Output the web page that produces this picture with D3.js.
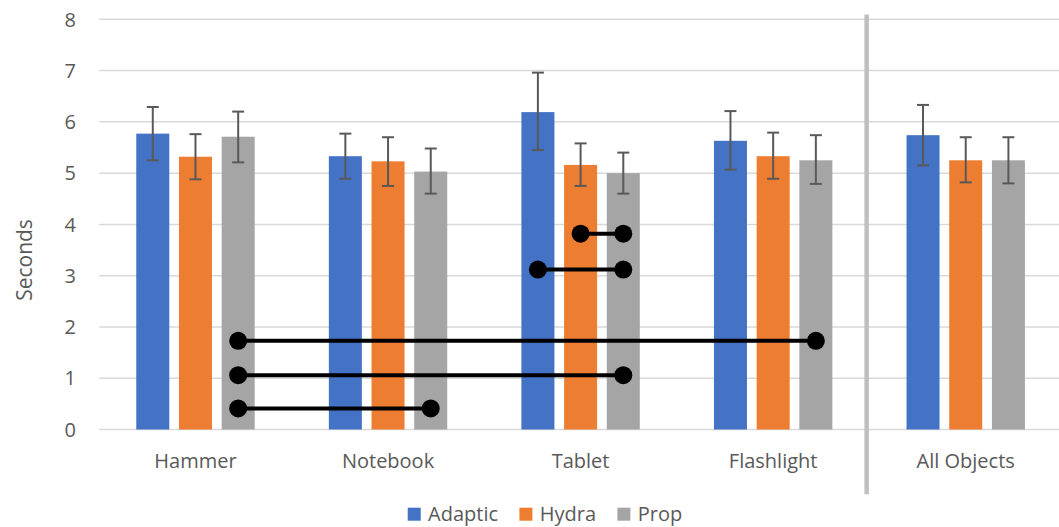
<!DOCTYPE html>
<html>
<head>
<meta charset="utf-8">
<script src="https://cdn.jsdelivr.net/npm/d3@7"></script>
<style>
  html, body { margin: 0; padding: 0; background: #fff; }
  svg { display: block; }
  text { font-family: "Open Sans", "Noto Sans", sans-serif; fill: #595959; }
</style>
</head>
<body>
<svg id="chart" width="1059" height="527"></svg>
<script>
// ---- data ----
const categories = ["Hammer", "Notebook", "Tablet", "Flashlight", "All Objects"];
const series = ["Adaptic", "Hydra", "Prop"];
const colors = ["#4472C4", "#ED7D31", "#A5A5A5"];
const adapticMean = [5.77, 5.33, 6.19, 5.63, 5.74];
const adapticLow  = [5.25, 4.89, 5.45, 5.07, 5.15];
const adapticHigh = [6.29, 5.77, 6.96, 6.21, 6.33];
const hydraMean   = [5.32, 5.23, 5.16, 5.33, 5.25];
const hydraLow    = [4.88, 4.75, 4.75, 4.89, 4.82];
const hydraHigh   = [5.76, 5.70, 5.58, 5.79, 5.70];
const propMean    = [5.71, 5.03, 5.00, 5.25, 5.25];
const propLow     = [5.21, 4.60, 4.60, 4.79, 4.80];
const propHigh    = [6.20, 5.48, 5.40, 5.74, 5.70];
const yTicks = [0, 1, 2, 3, 4, 5, 6, 7, 8];
const yTitle = "Seconds";
// significance connectors: [from category, from series, to category, to series, y value]
const linkFromCat = ["Hammer", "Hammer", "Hammer", "Tablet", "Tablet"];
const linkFromSer = ["Prop", "Prop", "Prop", "Adaptic", "Hydra"];
const linkToCat   = ["Flashlight", "Tablet", "Notebook", "Tablet", "Tablet"];
const linkToSer   = ["Prop", "Prop", "Prop", "Prop", "Prop"];
const linkValue   = [1.73, 1.06, 0.41, 3.12, 3.82];

const means = [adapticMean, hydraMean, propMean];
const lows = [adapticLow, hydraLow, propLow];
const highs = [adapticHigh, hydraHigh, propHigh];

// ---- layout ----
const W = 1059, H = 527;
const plotLeft = 99.2, plotRight = 1062, plotTop = 19.3, plotBottom = 429.5;
const svg = d3.select("#chart");

const x0 = d3.scaleBand().domain(categories).range([plotLeft, plotRight]).paddingInner(0).paddingOuter(0);
const x1 = d3.scaleBand().domain(series).range([-59.2, 59.2]).paddingInner(0.227).paddingOuter(0);
const y = d3.scaleLinear().domain([0, 8]).range([plotBottom, plotTop]);

// gridlines
svg.append("g").selectAll("line").data(yTicks).join("line")
  .attr("x1", plotLeft).attr("x2", W)
  .attr("y1", d => y(d)).attr("y2", d => y(d))
  .attr("stroke", "#d9d9d9").attr("stroke-width", 1.5);

// y tick labels
svg.append("g").selectAll("text").data(yTicks).join("text")
  .attr("x", 76).attr("y", d => y(d))
  .attr("dy", "0.36em")
  .attr("text-anchor", "end")
  .style("font-size", "20px")
  .text(d => d);

// y title
svg.append("text")
  .attr("transform", `translate(32,260) rotate(-90)`)
  .attr("text-anchor", "middle")
  .style("font-size", "21px")
  .text(yTitle);

// separator before "All Objects"
const sepX = x0("All Objects") - 2.8;
svg.append("line")
  .attr("x1", sepX).attr("x2", sepX)
  .attr("y1", 14.5).attr("y2", 494.3)
  .attr("stroke", "#bfbfbf").attr("stroke-width", 4.5);

// bars
const center = c => x0(c) + x0.bandwidth() / 2;
const barX = (c, s) => center(c) + x1(s);
const barMid = (c, s) => barX(c, s) + x1.bandwidth() / 2;

series.forEach((s, si) => {
  const g = svg.append("g");
  g.selectAll("rect").data(categories).join("rect")
    .attr("x", c => barX(c, s))
    .attr("width", x1.bandwidth())
    .attr("y", (c, i) => y(means[si][i]))
    .attr("height", (c, i) => y(0) - y(means[si][i]))
    .attr("fill", colors[si]);
});

// error bars
series.forEach((s, si) => {
  const g = svg.append("g").attr("stroke", "#595959").attr("stroke-width", 2);
  categories.forEach((c, i) => {
    const cx = barMid(c, s);
    g.append("line").attr("x1", cx).attr("x2", cx)
      .attr("y1", y(lows[si][i])).attr("y2", y(highs[si][i]));
    g.append("line").attr("x1", cx - 6).attr("x2", cx + 6)
      .attr("y1", y(lows[si][i])).attr("y2", y(lows[si][i]));
    g.append("line").attr("x1", cx - 6).attr("x2", cx + 6)
      .attr("y1", y(highs[si][i])).attr("y2", y(highs[si][i]));
  });
});

// connectors
const lg = svg.append("g");
linkValue.forEach((v, i) => {
  const xa = barMid(linkFromCat[i], linkFromSer[i]);
  const xb = barMid(linkToCat[i], linkToSer[i]);
  const yy = y(v);
  lg.append("line").attr("x1", xa).attr("x2", xb).attr("y1", yy).attr("y2", yy)
    .attr("stroke", "#000").attr("stroke-width", 4);
  lg.append("circle").attr("cx", xa).attr("cy", yy).attr("r", 9).attr("fill", "#000");
  lg.append("circle").attr("cx", xb).attr("cy", yy).attr("r", 9).attr("fill", "#000");
});

// x labels
svg.append("g").selectAll("text").data(categories).join("text")
  .attr("x", c => center(c)).attr("y", 468)
  .attr("text-anchor", "middle")
  .style("font-size", "20px")
  .text(c => c);

// legend
const leg = svg.append("g");
const items = series.map((s, i) => {
  const it = leg.append("g");
  it.append("rect").attr("width", 13).attr("height", 13).attr("y", 507.7).attr("fill", colors[i]);
  const t = it.append("text").attr("x", 20.4).attr("y", 520.5).style("font-size", "20px").text(s);
  return { g: it, w: 20.4 + t.node().getComputedTextLength() };
});
const gap = 21.3;
const total = d3.sum(items, d => d.w) + gap * (items.length - 1);
let lx = 545 - total / 2;
items.forEach(d => { d.g.attr("transform", `translate(${lx},0)`); lx += d.w + gap; });
</script>
</body>
</html>
